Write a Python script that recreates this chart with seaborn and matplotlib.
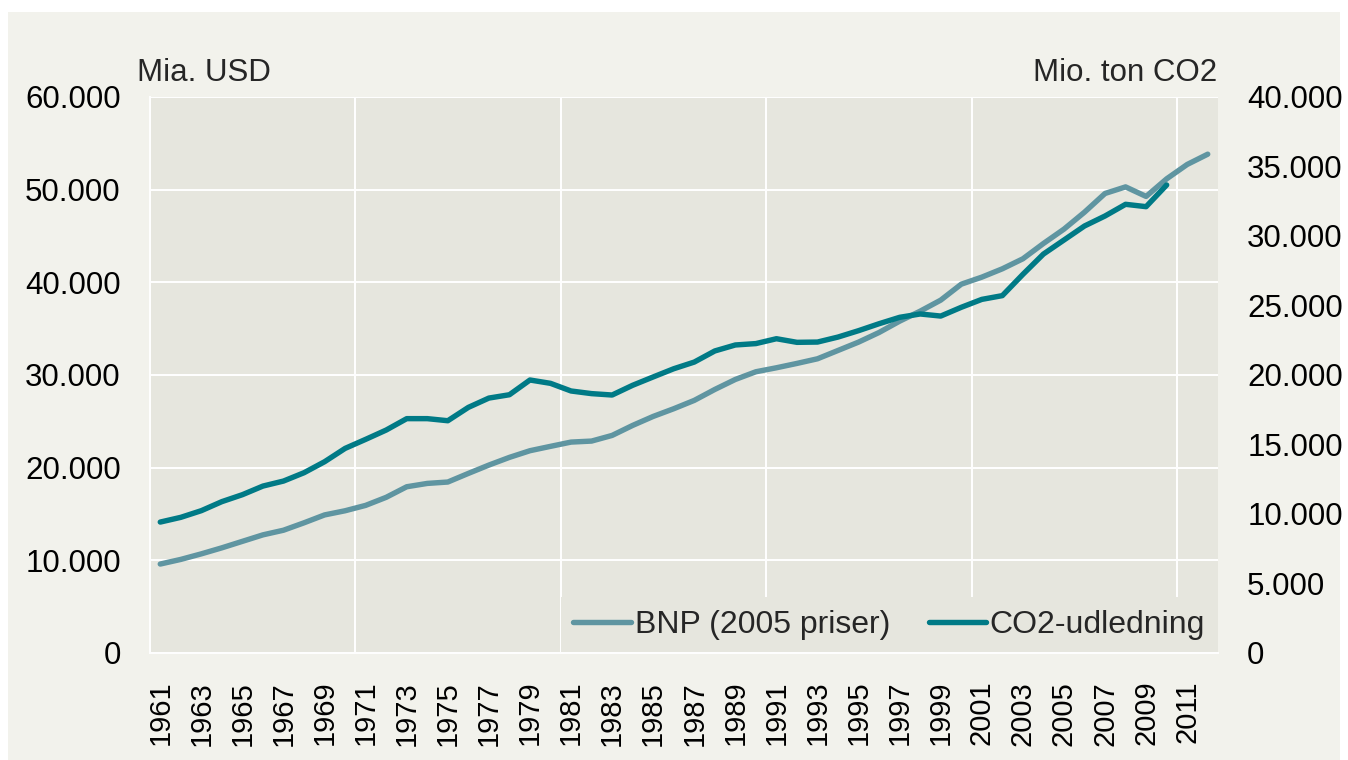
import numpy as np
import pandas as pd
import matplotlib
matplotlib.use('Agg')
import matplotlib.pyplot as plt
from matplotlib.patches import Rectangle
from matplotlib.ticker import FuncFormatter, MultipleLocator
import seaborn as sns

# data
years = list(range(1961, 2013))
bnp = [9600, 10100, 10700, 11350, 12050, 12750, 13250, 14050, 14900, 15350,
       15930, 16800, 17940, 18300, 18450, 19380, 20280, 21110, 21830, 22300,
       22760, 22870, 23480, 24560, 25530, 26360, 27260, 28440, 29520, 30350,
       30780, 31250, 31750, 32650, 33550, 34590, 35810, 36890, 38080, 39800,
       40560, 41460, 42540, 44190, 45740, 47570, 49590, 50300, 49270, 51170,
       52720, 53830]
co2_years = list(range(1961, 2011))
co2 = [9420, 9760, 10240, 10890, 11390, 12010, 12370, 12970, 13760, 14720,
       15370, 16040, 16860, 16860, 16710, 17670, 18340, 18580, 19640, 19400,
       18850, 18660, 18560, 19260, 19860, 20450, 20930, 21730, 22160, 22260,
       22610, 22350, 22370, 22730, 23190, 23690, 24150, 24390, 24240, 24870,
       25440, 25710, 27240, 28700, 29710, 30720, 31440, 32280, 32110, 33670]

labels = ['BNP (2005 priser)', 'CO2-udledning']
left_title = 'Mia. USD'
right_title = 'Mio. ton CO2'

BNP_COLOR = '#5F95A1'
CO2_COLOR = '#007A86'
PLOT_BG = '#E6E6DE'
FIG_BG = '#F2F2EC'

sns.set_style('white')
plt.rcParams['font.family'] = ['Liberation Sans', 'DejaVu Sans']

W, H = 1348, 760
fig = plt.figure(figsize=(W / 100, H / 100), dpi=100, facecolor='white')
fig.add_artist(Rectangle((8 / W, 0), (W - 16) / W, (H - 12) / H,
                         transform=fig.transFigure, facecolor=FIG_BG,
                         edgecolor='none', zorder=0))

px_l, px_r, px_t, px_b = 150, 1218, 97, 653
ax = fig.add_axes([px_l / W, 1 - px_b / H, (px_r - px_l) / W, (px_b - px_t) / H])
ax.set_facecolor(PLOT_BG)
ax2 = ax.twinx()

df_bnp = pd.DataFrame({'pos': np.arange(len(years)), 'value': bnp})
df_co2 = pd.DataFrame({'pos': np.arange(len(co2_years)), 'value': co2})

sns.lineplot(data=df_bnp, x='pos', y='value', ax=ax, color=BNP_COLOR,
             lw=3.9, solid_capstyle='round', legend=False)
sns.lineplot(data=df_co2, x='pos', y='value', ax=ax2, color=CO2_COLOR,
             lw=3.9, solid_capstyle='round', legend=False)

ax.set_xlim(-0.5, len(years) - 0.5)
ax.set_ylim(0, 60000)
ax2.set_ylim(0, 40000)
ax.yaxis.set_major_locator(MultipleLocator(10000))
ax2.yaxis.set_major_locator(MultipleLocator(5000))
fmt = FuncFormatter(lambda v, p: f'{v:,.0f}'.replace(',', '.'))
ax.yaxis.set_major_formatter(fmt)
ax2.yaxis.set_major_formatter(fmt)

ax.set_xticks(np.arange(0, len(years), 2))
ax.set_xticklabels([str(y) for y in years[::2]], rotation=90)
ax.set_xticks(np.arange(9.5, len(years), 10), minor=True)

ax.grid(False)
ax.grid(axis='y', which='major', color='white', lw=1.4)
ax.grid(axis='x', which='minor', color='white', lw=1.4)
ax2.grid(False)

for a in (ax, ax2):
    a.set_xlabel('')
    a.set_ylabel('')
ax.tick_params(axis='y', which='both', length=0, pad=21, labelsize=22.5, colors='black')
ax2.tick_params(axis='y', which='both', length=0, pad=21, labelsize=22.5, colors='black')
ax.tick_params(axis='x', which='both', length=0, pad=20, labelsize=21, colors='black')

for s in ('top', 'right'):
    ax.spines[s].set_visible(False)
for s in ('left', 'bottom'):
    ax.spines[s].set_color('white')
    ax.spines[s].set_linewidth(1.4)
for s in ax2.spines.values():
    s.set_visible(False)

handles = [ax.lines[0], ax2.lines[0]]
leg = ax2.legend(handles, labels, loc='lower right', bbox_to_anchor=(1, 0),
                 ncol=2, frameon=True, fancybox=False, framealpha=1,
                 facecolor=PLOT_BG, edgecolor='none', fontsize=23,
                 handlelength=1.8, handletextpad=0.12, columnspacing=1.2,
                 borderpad=0.4, borderaxespad=0)
ax2.axhline(0, color='white', lw=1.4, zorder=10, clip_on=False)

fig.text(137 / W, 1 - 81 / H, left_title, fontsize=22.5, ha='left', va='baseline')
fig.text(1217 / W, 1 - 81 / H, right_title, fontsize=22.5, ha='right', va='baseline')

fig.savefig('out.png', dpi=100, facecolor=fig.get_facecolor())
